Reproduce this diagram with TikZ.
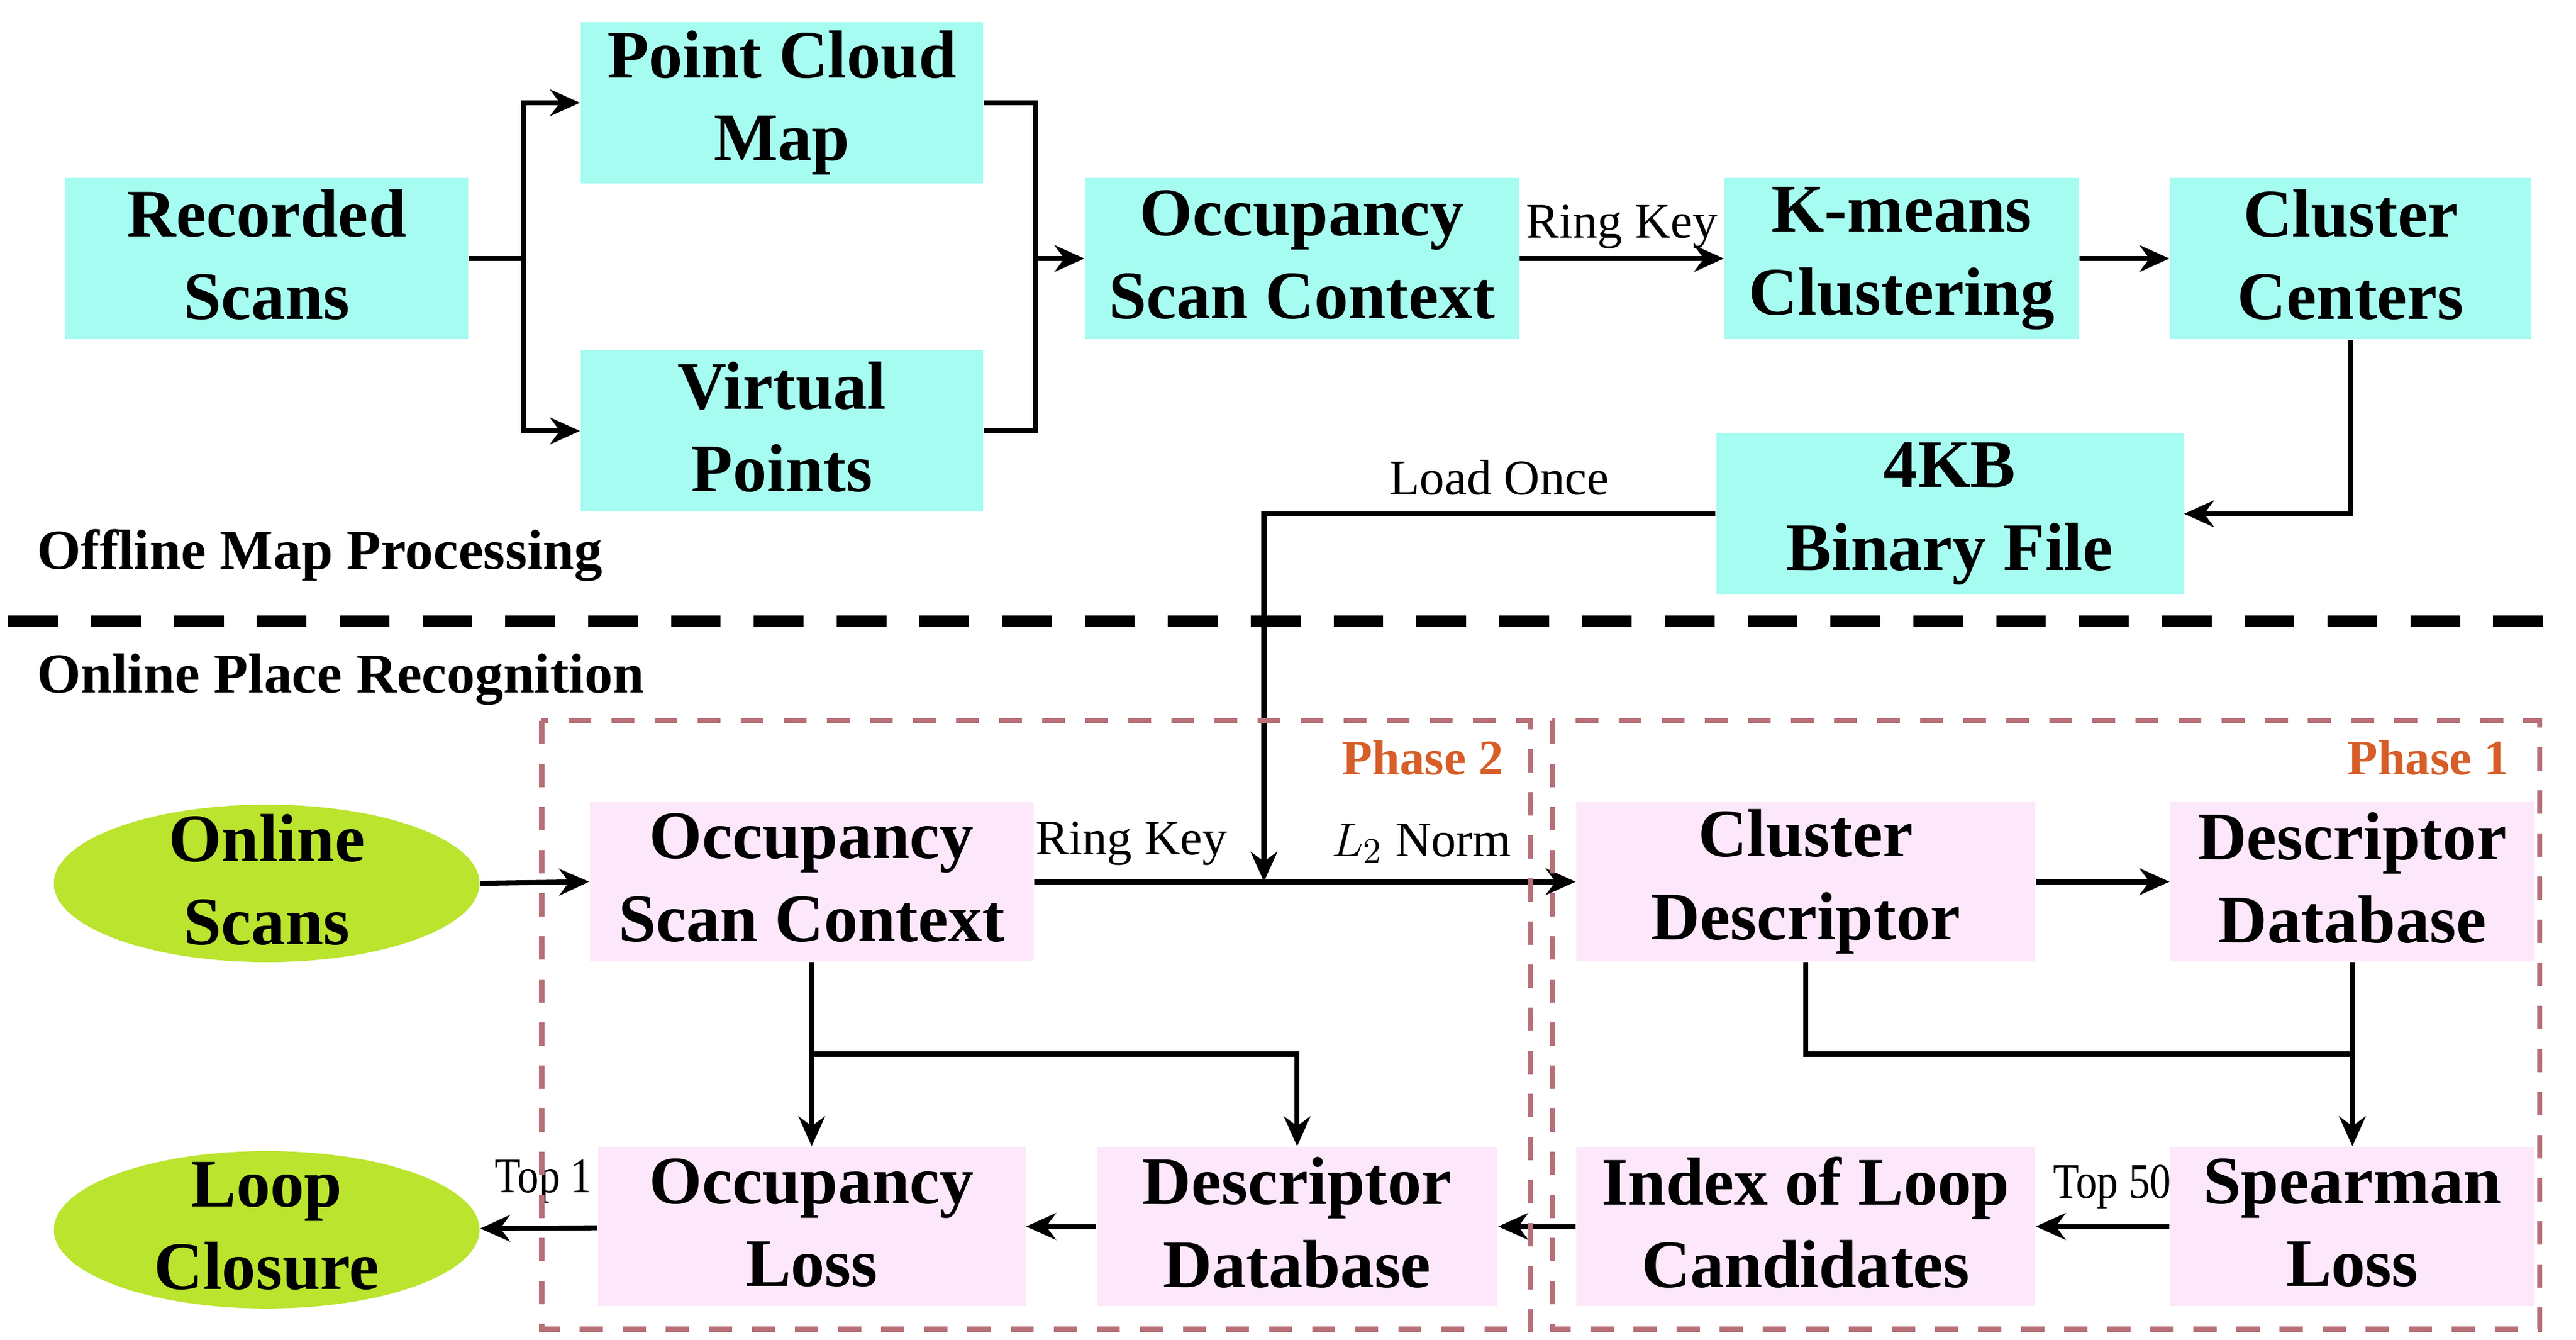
\documentclass[tikz,border=0pt]{standalone}
\usepackage{fontspec}
\setmainfont{Liberation Serif}
\usepackage{graphicx}
\usepackage{tikz}
\usetikzlibrary{shapes.geometric, arrows.meta, positioning}
\definecolor{mapcyan}{RGB}{166,252,240}
\definecolor{onpink}{RGB}{252,232,250}
\definecolor{scangreen}{RGB}{186,228,46}
\definecolor{phasered}{RGB}{184,112,120}
\definecolor{phaseorange}{RGB}{214,94,40}
\newcommand{\boxstrut}{\rule[-2.5pt]{0pt}{23.5pt}}
\tikzstyle{arrow} = [line width=1.5pt, ->, >={Stealth[length=9pt,width=8pt]}]
\tikzstyle{line} = [line width=1.5pt]

\begin{document}
\begin{tikzpicture}[x=0.5pt, y=-0.5pt,
    every node/.style={font=\fontsize{20.5}{25}\selectfont\bfseries},
    twoline/.style={align=center, execute at begin node=\boxstrut, execute at end node=\boxstrut},
    mapbox/.style={rectangle, fill=mapcyan, minimum height=48.5pt, inner sep=0pt, twoline},
    onbox/.style={rectangle, fill=onpink, minimum height=48pt, inner sep=0pt, twoline},
    scanell/.style={ellipse, fill=scangreen, minimum width=128.5pt, minimum height=47.5pt, inner sep=0pt},
    lbl/.style={font=\fontsize{15}{18}\selectfont},
    sect/.style={font=\fontsize{17}{20}\selectfont\bfseries, anchor=west, inner sep=0pt},
    phase/.style={font=\fontsize{15}{18}\selectfont\bfseries, text=phaseorange, anchor=east, inner sep=0pt},
    phasebox/.style={draw=phasered, line width=1.5pt, dash pattern=on 7pt off 6pt}]

\useasboundingbox (0,0) rectangle (1555,808.5);

% Offline map processing
\node[mapbox, minimum width=121.5pt] (rec) at (161,156) {Recorded\\Scans};
\node[mapbox, minimum width=121.5pt] (pcm) at (472,62) {Point Cloud\\Map};
\node[mapbox, minimum width=121.5pt] (vp) at (472,260) {Virtual\\Points};
\node[mapbox, minimum width=131pt] (osc) at (786,156) {Occupancy\\Scan Context};
\node[mapbox, minimum width=107pt] (km) at (1148,156) {K-means\\Clustering};
\node[mapbox, minimum width=109pt] (cc) at (1419,156) {Cluster\\Centers};
\node[mapbox, minimum width=141pt] (bin) at (1177,310) {4KB\\Binary File};

\node[sect] (offl) at (22,335) {Offline Map Processing};
\draw[line width=3.5pt, dash pattern=on 15pt off 10pt] (5,375) -- (1552,375);
\node[sect] (onl) at (22,410) {Online Place Recognition};

% Online place recognition
\node[scanell, label={[twoline, inner sep=0pt]center:Online\\Scans}] (ons) at (161,533) {};
\node[scanell, label={[twoline, inner sep=0pt]center:Loop\\Closure}] (lc) at (161,742) {};
\node[onbox, minimum width=134pt] (osc2) at (490,532) {Occupancy\\Scan Context};
\node[onbox, minimum width=129pt] (ol) at (490,740) {Occupancy\\Loss};
\node[onbox, minimum width=121pt] (ddl) at (783,740) {Descriptor\\Database};
\node[onbox, minimum width=138.5pt] (cd) at (1090,532) {Cluster\\Descriptor};
\node[onbox, minimum width=110pt] (ddr) at (1420,532) {Descriptor\\Database};
\node[onbox, minimum width=138.5pt] (ilc) at (1090,740) {Index of Loop\\Candidates};
\node[onbox, minimum width=110pt] (sl) at (1420,740) {Spearman\\Loss};

% Arrows (offline)
\coordinate (split) at (316,156);
\coordinate (merge) at (625,156);
\draw[line] (rec.east) -- (split);
\draw[arrow] (split) |- (pcm.west);
\draw[arrow] (split) |- (vp.west);
\draw[line] (pcm.east) -| (merge);
\draw[line] (vp.east) -| (merge);
\draw[arrow] (merge) -- (osc.west);
\draw[arrow] (osc) -- node[lbl, above, yshift=-1pt] {Ring Key} (km);
\draw[arrow] (km) -- (cc);
\draw[arrow] (cc.south) |- (bin.east);

% Arrows (online)
\coordinate (load) at (763,532);
\draw[arrow] (bin.west) -| (load);
\node[lbl] (loadlbl) at (905,288) {Load Once};
\draw[arrow] (ons.east) -- (osc2.west);
\draw[arrow] (osc2.east) -- (cd.west);
\node[lbl] (rk2) at (683,509) {Ring Key};
\node[lbl] (l2n) at (858,509) {$L_2$ Norm};
\draw[arrow] (cd) -- (ddr);
\coordinate (jr) at (1420,636);
\draw[line] (cd.south) |- (jr);
\draw[arrow] (ddr.south) -- (sl.north);
\draw[arrow] (sl) -- (ilc);
\node[lbl] (top50) at (1275,716) {\scalebox{0.85}[1]{Top 50}};
\draw[arrow] (ilc) -- (ddl);
\draw[arrow] (ddl) -- (ol);
\draw[arrow] (ol) -- (lc);
\node[lbl] (top1) at (328,713) {\scalebox{0.85}[1]{Top 1}};
\coordinate (jl) at (490,636);
\draw[arrow] (osc2.south) -- (ol.north);
\draw[arrow] (jl) -| (ddl.north);

% Phase boxes
\draw[phasebox] (327,435) rectangle (924,802);
\draw[phasebox] (937,435) rectangle (1533,802);
\node[phase] (ph2) at (908,457) {Phase 2};
\node[phase] (ph1) at (1515,457) {Phase 1};

\end{tikzpicture}
\end{document}
